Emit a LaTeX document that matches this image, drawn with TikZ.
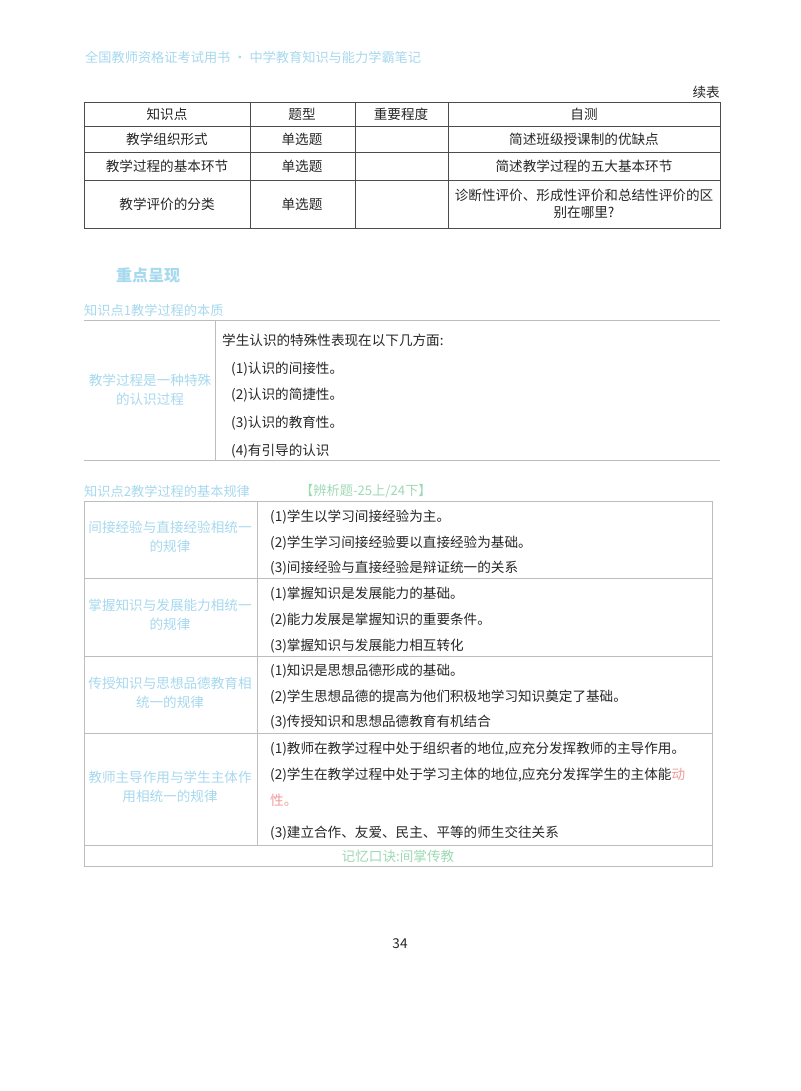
\documentclass[tikz,border=0pt]{standalone}
\usepackage{fontspec}
\setmainfont{Noto Sans CJK SC}
\definecolor{lb}{HTML}{A6D8EE}
\definecolor{lg}{HTML}{9ED9B4}
\definecolor{lr}{HTML}{F09A9A}
\definecolor{gl}{HTML}{BDBDBD}
\begin{document}
\begin{tikzpicture}[x=1pt,y=-1pt,
  t/.style={font=\fontsize{13.6}{15}\selectfont,inner sep=0pt,text=black!85},
  tl/.style={t,anchor=west},
  lbt/.style={t,text=lb},
  line/.style={draw=gl,line width=0.6pt},
  dl/.style={draw=black!70,line width=0.5pt}]
\useasboundingbox (0,0) rectangle (800,1091);
\node[lbt,anchor=west,font=\fontsize{13.2}{15}\selectfont] (hdr) at (85,57) {全国教师资格证考试用书 • 中学教育知识与能力学霸笔记};
\node[t,anchor=east] (xb) at (720,92) {续表};
% table 1
\draw[dl] (84,102) rectangle (720,228);
\foreach \y in {126,152,180} \draw[dl] (84,\y) -- (720,\y);
\foreach \x in {250,355,448} \draw[dl] (\x,102) -- (\x,228);
\node[t] (h1) at (167,114) {知识点};
\node[t] (h2) at (302,114) {题型};
\node[t] (h3) at (401,114) {重要程度};
\node[t] (h4) at (584,114) {自测};
\node[t] (a1) at (167,139) {教学组织形式};
\node[t] (a2) at (302,139) {单选题};
\node[t] (a4) at (584,139) {简述班级授课制的优缺点};
\node[t] (b1) at (167,166) {教学过程的基本环节};
\node[t] (b2) at (302,166) {单选题};
\node[t] (b4) at (584,166) {简述教学过程的五大基本环节};
\node[t] (c1) at (167,204) {教学评价的分类};
\node[t] (c2) at (302,204) {单选题};
\node[t,align=center] (c4) at (584,204) {诊断性评价、形成性评价和总结性评价的区\\[2pt]别在哪里?};
% section
\node[lbt,anchor=west,font=\fontsize{16}{18}\selectfont\bfseries] (zd) at (116,275) {重点呈现};
\node[lbt,anchor=west,font=\fontsize{13.2}{15}\selectfont] (k1) at (84,310) {知识点1教学过程的本质};
\draw[line] (84,320) -- (720,320);
\draw[line] (84,460) -- (720,460);
\draw[line] (215,320) -- (215,460);
\node[lbt,align=center] (k1l) at (150,390) {教学过程是一种特殊\\[4pt]的认识过程};
\node[tl] (k1a) at (222,340) {学生认识的特殊性表现在以下几方面:};
\node[tl] (k1b) at (228,369) {\ (1)认识的间接性。};
\node[tl] (k1c) at (228,395) {\ (2)认识的简捷性。};
\node[tl] (k1d) at (228,423) {\ (3)认识的教育性。};
\node[tl] (k1e) at (228,451) {\ (4)有引导的认识};
% table 3
\node[lbt,anchor=west,font=\fontsize{13.2}{15}\selectfont] (k2) at (84,491) {知识点2教学过程的基本规律};
\node[t,anchor=west,text=lg,font=\fontsize{13.2}{15}\selectfont] (k2b) at (300,491) {【辨析题-25上/24下】};
\draw[line] (84,501) rectangle (712,866);
\foreach \y in {578,656,733,845} \draw[line] (84,\y) -- (712,\y);
\draw[line] (257,501) -- (257,845);
\node[lbt,align=center] (r1) at (170,537) {间接经验与直接经验相统一\\[4pt]的规律};
\node[lbt,align=center] (r2) at (170,615) {掌握知识与发展能力相统一\\[4pt]的规律};
\node[lbt,align=center] (r3) at (170,693) {传授知识与思想品德教育相\\[4pt]统一的规律};
\node[lbt,align=center] (r4) at (170,787) {教师主导作用与学生主体作\\[4pt]用相统一的规律};
\node[tl] (p11) at (270,517) {(1)学生以学习间接经验为主。};
\node[tl] (p12) at (270,543) {(2)学生学习间接经验要以直接经验为基础。};
\node[tl] (p13) at (270,568) {(3)间接经验与直接经验是辩证统一的关系};
\node[tl] (p21) at (270,594) {(1)掌握知识是发展能力的基础。};
\node[tl] (p22) at (270,620) {(2)能力发展是掌握知识的重要条件。};
\node[tl] (p23) at (270,646) {(3)掌握知识与发展能力相互转化};
\node[tl] (p31) at (270,671) {(1)知识是思想品德形成的基础。};
\node[tl] (p32) at (270,697) {(2)学生思想品德的提高为他们积极地学习知识奠定了基础。};
\node[tl] (p33) at (270,722) {(3)传授知识和思想品德教育有机结合};
\node[tl] (p41) at (270,749) {(1)教师在教学过程中处于组织者的地位,应充分发挥教师的主导作用。};
\node[tl] (p42) at (270,775) {(2)学生在教学过程中处于学习主体的地位,应充分发挥学生的主体能\textcolor{lr}{动}};
\node[tl,text=lr] (p43) at (270,800) {性。};
\node[tl] (p44) at (270,833) {(3)建立合作、友爱、民主、平等的师生交往关系};
\node[t,text=lg] (kj) at (398,856) {记忆口诀:间掌传教};
\node[t] (pg) at (400,944) {34};
\end{tikzpicture}
\end{document}
